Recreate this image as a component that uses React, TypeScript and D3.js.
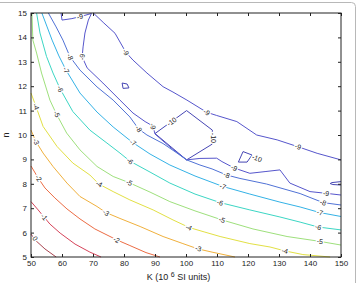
import * as d3 from "d3";
import { useEffect, useRef } from "react";

// contour levels and their line colours (jet-like ramp)
const levels = [-10, -9, -8, -7, -6, -5, -4, -3, -2, -1, 0];
const levelColors = [
  "#4646b4", "#5656cc", "#5072d6", "#34b2e6", "#3cd6c4", "#9ee07c",
  "#e2e044", "#f0b03c", "#ec6c44", "#d6445a", "#a84450",
];

const kTicks = [50, 60, 70, 80, 90, 100, 110, 120, 130, 140, 150];
const nTicks = [5, 6, 7, 8, 9, 10, 11, 12, 13, 14, 15];

// contour polylines, [K, n] pairs
const contourNeg10 = [
  [[90.0, 10.06], [100.2, 11.0], [108.5, 10.2], [108.5, 9.63], [100.2, 8.98], [90.0, 10.06]],
  [[79.4, 12.13], [81.0, 12.09], [81.6, 11.93], [79.7, 11.91], [79.4, 12.13]],
  [[118.4, 9.32], [121.3, 9.18], [119.7, 8.89], [116.9, 8.89], [118.4, 9.32]],
  [[150, 8.09], [147.1, 8.05], [146.5, 8.01], [147.4, 7.97], [150, 7.95]],
];
const contourNeg9 = [
  [
    [59.7, 15], [60.0, 14.71], [63.2, 14.77], [65.8, 14.85], [68.4, 14.94], [69.5, 14.98],
    [68.5, 14.71], [67.4, 14.18], [66.8, 13.61], [66.5, 13.2], [68.1, 12.75], [73.2, 12.13],
    [78.7, 11.43], [82.9, 10.9], [86.8, 10.55], [89.3, 10.37], [90.0, 10.04], [94.8, 9.51],
    [100.2, 8.98], [104.5, 9.04], [109.9, 9.05], [111.6, 8.91], [115.5, 8.65], [120.6, 8.43],
    [125.5, 8.5], [130.3, 8.57], [133.5, 8.03], [140.0, 7.68], [145.2, 7.61], [150, 7.54],
  ],
  [
    [70.1, 15], [73.5, 14.59], [77.1, 14.17], [80.6, 13.39], [82.9, 13.07], [87.4, 12.54],
    [92.6, 11.98], [95.8, 11.76], [100.3, 11.43], [106.7, 10.93], [109.9, 10.8], [116.4, 10.55],
    [122.8, 10.0], [129.4, 9.8], [136.1, 9.52], [142.3, 9.25], [150, 8.98],
  ],
];
const contourNeg8 = [
  [
    [55.6, 15], [58.1, 14.43], [60.3, 13.89], [62.6, 13.2], [65.8, 12.66], [71.3, 11.97],
    [76.5, 11.43], [81.9, 10.74], [84.7, 10.25], [87.4, 10.0], [92.6, 9.65], [97.1, 9.26],
    [100.2, 8.98], [104.5, 8.77], [108.4, 8.61], [113.1, 8.36], [117.4, 8.22], [126.0, 7.99],
    [136.8, 7.6], [144.2, 7.23], [150, 7.13],
  ],
];
const contourNeg7 = [
  [
    [53.5, 15], [55.2, 14.43], [56.8, 13.89], [59.0, 13.24], [61.3, 12.66], [65.8, 11.72],
    [71.3, 10.94], [76.5, 10.33], [82.6, 9.71], [88.4, 9.22], [94.8, 8.77], [102.9, 8.32],
    [111.9, 7.89], [120.6, 7.58], [130.3, 7.25], [136.8, 7.05], [143.2, 6.82], [150, 6.66],
  ],
];
const contourNeg6 = [
  [
    [51.8, 15], [52.9, 14.18], [55.0, 13.22], [57.1, 12.54], [59.4, 11.89], [63.5, 10.96],
    [69.0, 10.2], [74.5, 9.67], [78.7, 9.26], [81.9, 8.93], [88.4, 8.48], [94.8, 8.03],
    [102.9, 7.58], [111.0, 7.23], [120.6, 6.93], [130.3, 6.64], [136.8, 6.43], [142.6, 6.23],
    [150, 6.11],
  ],
];
const contourNeg5 = [
  [
    [50.3, 15], [50.6, 13.89], [51.8, 13.36], [53.4, 12.54], [56.1, 11.43], [58.2, 10.86],
    [61.5, 10.08], [65.8, 9.39], [71.3, 8.71], [76.5, 8.3], [81.6, 8.05], [88.4, 7.66],
    [94.8, 7.27], [102.9, 6.89], [111.6, 6.52], [121.6, 6.15], [132.6, 5.84], [143.2, 5.64],
    [150, 5.49],
  ],
];
const contourNeg4 = [
  [
    [50, 11.72], [51.6, 11.17], [53.9, 10.35], [58.4, 9.53], [63.5, 8.85], [69.0, 8.36],
    [71.9, 7.99], [76.5, 7.68], [81.9, 7.34], [89.4, 6.93], [95.8, 6.52], [101.0, 6.21],
    [106.1, 6.02], [111.0, 5.84], [120.6, 5.55], [127.1, 5.41], [131.9, 5.25], [137.7, 5.1],
    [146.5, 5.0],
  ],
];
const contourNeg3 = [
  [
    [50, 10.2], [51.6, 9.73], [53.9, 9.26], [57.1, 8.71], [61.6, 8.03], [65.8, 7.48],
    [71.3, 7.07], [74.2, 6.82], [78.7, 6.58], [85.2, 6.25], [92.6, 5.84], [99.0, 5.55],
    [103.9, 5.33], [108.4, 5.2], [115.8, 5.0],
  ],
];
const contourNeg2 = [
  [
    [50, 8.73], [52.3, 8.24], [54.5, 7.83], [57.7, 7.42], [61.6, 6.97], [65.8, 6.56],
    [70.6, 6.15], [77.7, 5.7], [81.9, 5.47], [87.1, 5.18], [91.6, 5.0],
  ],
];
const contourNeg1 = [
  [
    [50, 7.27], [52.3, 6.93], [54.2, 6.64], [56.1, 6.35], [59.4, 5.98], [64.2, 5.53],
    [69.0, 5.2], [72.6, 5.0],
  ],
];
const contour0 = [[[50, 5.94], [51.3, 5.7], [54.5, 5.33], [58.1, 5.0]]];

const contours = [
  { level: -10, paths: contourNeg10 },
  { level: -9, paths: contourNeg9 },
  { level: -8, paths: contourNeg8 },
  { level: -7, paths: contourNeg7 },
  { level: -6, paths: contourNeg6 },
  { level: -5, paths: contourNeg5 },
  { level: -4, paths: contourNeg4 },
  { level: -3, paths: contourNeg3 },
  { level: -2, paths: contourNeg2 },
  { level: -1, paths: contourNeg1 },
  { level: 0, paths: contour0 },
];

// inline labels: [level, K, n]
const labelSpots = [
  [0, 51.3, 5.76],
  [-1, 54.2, 6.64],
  [-2, 52.4, 8.23], [-2, 77.6, 5.7],
  [-3, 51.6, 9.73], [-3, 74.2, 6.82], [-3, 104.0, 5.35],
  [-4, 51.6, 11.16], [-4, 72.0, 7.99], [-4, 100.9, 6.21], [-4, 131.9, 5.25],
  [-5, 58.3, 10.86], [-5, 81.7, 8.05], [-5, 111.6, 6.52], [-5, 143.2, 5.64],
  [-6, 59.4, 11.89], [-6, 81.9, 8.93], [-6, 111.0, 7.23], [-6, 142.6, 6.23],
  [-7, 61.3, 12.66], [-7, 82.9, 9.69], [-7, 111.9, 7.89], [-7, 143.2, 6.82],
  [-8, 62.6, 13.2], [-8, 84.7, 10.25], [-8, 113.1, 8.36], [-8, 144.2, 7.23],
  [-9, 65.8, 14.85], [-9, 66.5, 13.2], [-9, 80.6, 13.39], [-9, 89.3, 10.35],
  [-9, 106.7, 10.93], [-9, 115.5, 8.65], [-9, 136.1, 9.52], [-9, 145.2, 7.61],
  [-10, 95.4, 10.55], [-10, 109.0, 9.88], [-10, 122.9, 9.05],
];

const FONT = "'Liberation Sans', Arial, Helvetica, sans-serif";

function ContourChart() {
  const ref = useRef<SVGSVGElement>(null);

  useEffect(() => {
    const svg = d3.select(ref.current);
    svg.selectAll("*").remove();

    const margin = { top: 13, right: 16, bottom: 26, left: 31 },
      width = 357 - margin.left - margin.right,
      height = 283 - margin.top - margin.bottom;

    const x = d3.scaleLinear().domain([50, 150]).range([0, width]);
    const y = d3.scaleLinear().domain([5, 15]).range([height, 0]);
    const color = d3.scaleOrdinal<number, string>().domain(levels).range(levelColors);

    // figure border, only its top and right edges are in view
    svg
      .append("path")
      .attr("d", "M0,2.5H351.5Q355.5,2.5 355.5,6.5V283")
      .attr("fill", "none")
      .attr("stroke", "#b8b8b8");

    const g = svg.append("g").attr("transform", `translate(${margin.left},${margin.top})`);

    const line = d3
      .line<number[]>()
      .x((d) => x(d[0]))
      .y((d) => y(d[1]));

    contours.forEach((c) => {
      g.append("g")
        .selectAll("path")
        .data(c.paths)
        .join("path")
        .attr("d", (d) => line(d))
        .attr("fill", "none")
        .attr("stroke", color(c.level))
        .attr("stroke-width", 1)
        .attr("stroke-linejoin", "round");
    });

    // labels follow the direction of the nearest segment
    labelSpots.forEach(([level, k, n]) => {
      const px = x(k),
        py = y(n);
      const c = contours.find((d) => d.level === level)!;
      let best = Infinity,
        angle = 0;
      c.paths.forEach((p) => {
        for (let i = 0; i < p.length - 1; i++) {
          const ax = x(p[i][0]),
            ay = y(p[i][1]),
            bx = x(p[i + 1][0]),
            by = y(p[i + 1][1]);
          const dx = bx - ax,
            dy = by - ay;
          const len2 = dx * dx + dy * dy || 1;
          const t = Math.max(0, Math.min(1, ((px - ax) * dx + (py - ay) * dy) / len2));
          const dist = Math.hypot(ax + t * dx - px, ay + t * dy - py);
          if (dist < best) {
            best = dist;
            angle = (Math.atan2(dy, dx) * 180) / Math.PI;
          }
        }
      });
      if (angle > 90) angle -= 180;
      if (angle <= -90) angle += 180;
      g.append("text")
        .attr("transform", `translate(${px},${py}) rotate(${angle})`)
        .attr("text-anchor", "middle")
        .attr("dy", "0.35em")
        .attr("font-family", FONT)
        .attr("font-size", 7)
        .attr("fill", "#222")
        .attr("stroke", "#fff")
        .attr("stroke-width", 2.5)
        .attr("paint-order", "stroke")
        .text(level);
    });

    // axes, ticks pointing inwards
    const styleAxis = (sel: d3.Selection<SVGGElement, unknown, null, undefined>) => {
      sel.select(".domain").remove();
      sel.selectAll("line").attr("stroke", "#222");
      sel.selectAll("text").attr("fill", "#222");
      sel.attr("font-family", FONT).attr("font-size", 8);
    };

    g.append("g")
      .attr("transform", `translate(0,${height})`)
      .call(d3.axisBottom(x).tickValues(kTicks).tickSizeInner(-3).tickSizeOuter(0).tickPadding(3))
      .call(styleAxis);
    g.append("g")
      .call(d3.axisTop(x).tickValues(kTicks).tickSizeInner(-3).tickSizeOuter(0).tickFormat(() => ""))
      .call(styleAxis);
    g.append("g")
      .call(d3.axisLeft(y).tickValues(nTicks).tickSizeInner(-3).tickSizeOuter(0).tickPadding(4))
      .call(styleAxis);
    g.append("g")
      .attr("transform", `translate(${width},0)`)
      .call(d3.axisRight(y).tickValues(nTicks).tickSizeInner(-3).tickSizeOuter(0).tickFormat(() => ""))
      .call(styleAxis);

    g.append("rect")
      .attr("width", width)
      .attr("height", height)
      .attr("fill", "none")
      .attr("stroke", "#222")
      .attr("stroke-width", 1);

    // axis titles
    const xt = svg
      .append("text")
      .attr("x", 178.5)
      .attr("y", 280)
      .attr("text-anchor", "middle")
      .attr("font-family", FONT)
      .attr("font-size", 9)
      .attr("fill", "#222");
    xt.append("tspan").text("K (10 ");
    xt.append("tspan").attr("dy", -3).attr("font-size", 7).text("6");
    xt.append("tspan").attr("dy", 3).text(" SI units)");

    svg
      .append("text")
      .attr("transform", `translate(9,135) rotate(-90)`)
      .attr("text-anchor", "middle")
      .attr("font-family", FONT)
      .attr("font-size", 9)
      .attr("fill", "#222")
      .text("n");
  }, []);

  return <svg ref={ref} width={357} height={283} style={{ position: "absolute", left: 0, top: 0 }} />;
}

export default function App() {
  return <ContourChart />;
}
